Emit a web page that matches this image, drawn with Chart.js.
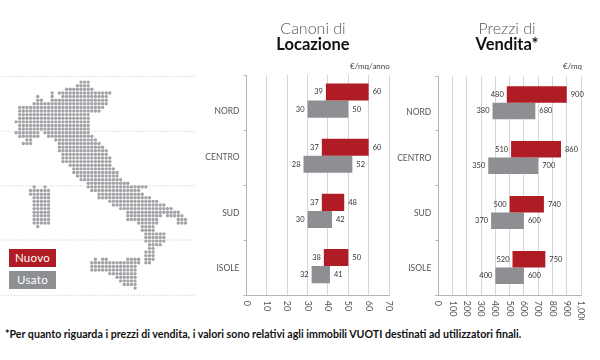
<!DOCTYPE html>
<html lang="it"><head><meta charset="utf-8">
<script src="https://cdn.jsdelivr.net/npm/chart.js@4"></script>
<style>
html,body{margin:0;padding:0;background:#fff;width:600px;height:360px;overflow:hidden;font-family:Lato,sans-serif}
canvas{position:absolute}
#map{filter:blur(.4px)}
.t{position:absolute;white-space:nowrap}
.h{text-align:center;color:#222;line-height:17px;font-size:16px;width:160px}
.h b{display:block;font-weight:700;color:#111;font-size:16.5px}
.h span{font-weight:300;color:#555}
.u{font-size:8px;color:#444;top:61px}
.k{position:absolute;left:9px;width:47px;height:18px;line-height:18px;color:#fff;font-size:11.5px;font-weight:400;text-align:center;letter-spacing:.3px}
</style></head><body>
<canvas id="map" width="200" height="240" style="left:0;top:60px;width:200px;height:240px"></canvas>
<canvas id="a" width="205" height="265" style="left:190px;top:55px;width:205px;height:265px"></canvas>
<canvas id="b" width="205" height="265" style="left:383px;top:55px;width:205px;height:265px"></canvas>
<div class="t h" style="left:233px;top:19px"><span>Canoni di</span><b>Locazione</b></div>
<div class="t h" style="left:427px;top:19px"><span>Prezzi di</span><b>Vendita*</b></div>
<div class="t u" style="left:350px">€/mq/anno</div>
<div class="t u" style="left:563px">€/mq</div>
<div class="k" id="k0" style="top:249px;background:#b01c24"></div>
<div class="k" id="k1" style="top:271px;background:#8d8f92"></div>
<div class="t" style="left:5px;top:327px;font-size:10.65px;font-weight:700;color:#111">*Per quanto riguarda i prezzi di vendita, i valori sono relativi agli immobili VUOTI destinati ad utilizzatori finali.</div>
<script>
const categories = ['NORD','CENTRO','SUD','ISOLE'];
const seriesNames = ['Nuovo','Usato'];
const canoniNuovo = [[39,60],[37,60],[37,48],[38,50]];
const canoniUsato = [[30,50],[28,52],[30,42],[32,41]];
const prezziNuovo = [[480,900],[510,860],[500,740],[520,750]];
const prezziUsato = [[380,680],[350,700],[370,600],[400,600]];
const RED = '#b01c24', GREY = '#8d8f92';

// Dot map: each row lists [first column, last column] runs
const mapRows = [
[[22,24]],[[21,24]],[[18,25]],[[14,14],[16,30]],[[10,10],[14,14],[17,29]],[[10,11],[14,29]],[[9,29]],[[5,28]],[[5,27]],[[5,24]],
[[5,24]],[[4,24]],[[5,24]],[[5,24]],[[4,10],[12,24]],[[5,10],[13,25]],[[7,8],[15,26]],[[6,8],[16,27]],[[16,28]],[[16,29]],
[[17,29]],[[17,30]],[[17,30]],[[19,30]],[[20,31]],[[20,32]],[[21,32]],[[22,33]],[[24,35]],[[9,9],[12,12],[24,40]],
[[8,13],[25,38]],[[8,13],[27,39]],[[9,13],[27,41]],[[9,13],[30,43]],[[9,13],[31,45]],[[9,13],[33,47]],[[9,13],[35,49]],[[9,13],[35,44],[46,50]],[[9,13],[35,43],[49,51]],[[9,13],[38,43],[49,51]],
[[10,10],[39,42]],[[39,42]],[[40,45]],[[40,45]],[[40,45]],[[41,44]],[[41,42]],[[40,42]],[[40,42]],[[26,26],[28,29],[35,38],[40,42]],
[[25,38],[40,41]],[[25,37]],[[25,37]],[[30,37]],[[32,37]],[[33,37]],[[34,37]],[[37,37]]
];
const dottedRows = [-1.55, 13.6, 28.7, 43.7, 59];

const mapDots = [];
mapRows.forEach((runs, r) => runs.forEach(([s, e]) => { for (let c = s; c <= e; c++) mapDots.push({x: c, y: r}); }));

Chart.defaults.font.family = 'Lato, sans-serif';
Chart.defaults.animation = false;

new Chart(document.getElementById('map'), {
  type: 'scatter',
  data: { datasets: [
    { data: mapDots, pointRadius: 1.7, pointHoverRadius: 1.7, pointBackgroundColor: '#a2a4a7', pointBorderWidth: 0, order: 0 },
    ...dottedRows.map(y => ({ data: [{x: 0, y}, {x: 54, y}], showLine: true, pointRadius: 0,
      borderColor: '#c4c4c4', borderWidth: 1, borderDash: [1, 2], order: 1 }))
  ]},
  options: { responsive: false, layout: {padding: 0},
    plugins: {legend: {display: false}, tooltip: {enabled: false}},
    scales: { x: {display: false, min: 0, max: 54.55}, y: {display: false, min: -5.64, max: 59.82, reverse: true} } }
});

const endLabels = {
  id: 'endLabels',
  afterDatasetsDraw(chart) {
    const c = chart.ctx;
    c.save();
    c.font = '7.5px Lato, sans-serif';
    c.fillStyle = '#333';
    c.textBaseline = 'middle';
    chart.data.datasets.forEach((ds, i) => {
      chart.getDatasetMeta(i).data.forEach((bar, j) => {
        const [lo, hi] = ds.data[j];
        const p = bar.getProps(['x', 'y', 'base']);
        c.textAlign = 'right'; c.fillText(lo, Math.min(p.x, p.base) - 3, p.y);
        c.textAlign = 'left'; c.fillText(hi, Math.max(p.x, p.base) + 4, p.y);
      });
    });
    c.restore();
  }
};

function bandChart(id, nuovo, usato, xMax, step, o) {
  const shift = {
    id: 'shift',
    afterLayout(chart) {
      const s = chart.scales.bars;
      s.top -= o.barShift; s.bottom -= o.barShift; s.configure();
    }
  };
  return new Chart(document.getElementById(id), {
    type: 'bar',
    data: { labels: categories, datasets: [
      { label: seriesNames[0], data: nuovo, backgroundColor: RED, xAxisID: 'x', yAxisID: 'bars', categoryPercentage: o.cat, barPercentage: 1 },
      { label: seriesNames[1], data: usato, backgroundColor: GREY, xAxisID: 'x', yAxisID: 'bars', categoryPercentage: o.cat, barPercentage: 1 }
    ]},
    plugins: [shift, endLabels],
    options: {
      indexAxis: 'y', responsive: false,
      layout: { padding: { left: 0, top: o.top, right: o.right, bottom: 0 } },
      plugins: { legend: {display: false}, tooltip: {enabled: false} },
      scales: {
        x: { position: 'bottom', min: 0, max: xMax,
          grid: { color: '#d6d6d6', lineWidth: 1, drawTicks: false },
          border: { color: '#b5b5b5' },
          afterFit(s) { s.height = o.xHeight; },
          beforeUpdate(s) { s._getXAxisLabelAlignment = () => 'left'; },
          ticks: { stepSize: step, minRotation: -90, maxRotation: -90, autoSkip: false, padding: 5,
            color: '#555', font: {size: 9},
            callback: v => v.toLocaleString('en-US') } },
        y: { type: 'category', labels: categories, position: 'left',
          grid: { display: true, drawOnChartArea: false, offset: true, tickLength: 3, color: '#b5b5b5' },
          border: { color: '#b5b5b5' },
          afterFit(s) { s.width = o.yWidth; },
          ticks: { padding: 4, color: '#555', font: {size: 8.5, lineHeight: 1},
            callback(v, i) { const t = this.getLabelForValue(v); return i === 0 ? ['', '', t] : t; } } },
        bars: { type: 'category', labels: categories, display: false, position: 'left' }
      }
    }
  });
}

bandChart('a', canoniNuovo, canoniUsato, 70, 10, {top: 20, right: 6, xHeight: 24.3, yWidth: 56.5, cat: 0.62, barShift: 2});
bandChart('b', prezziNuovo, prezziUsato, 1000, 100, {top: 21, right: 7, xHeight: 24.3, yWidth: 55.3, cat: 0.6, barShift: 0.8});

seriesNames.forEach((n, i) => { document.getElementById('k' + i).textContent = n; });
</script>
</body></html>
